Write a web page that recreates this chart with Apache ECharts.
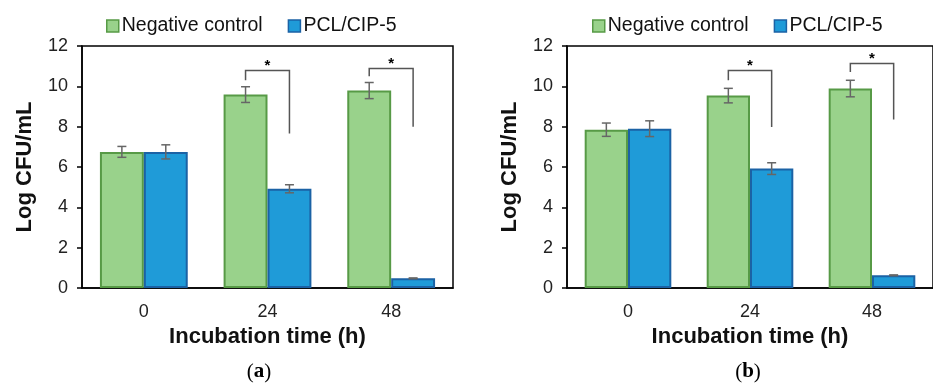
<!DOCTYPE html>
<html>
<head>
<meta charset="utf-8">
<script src="https://cdn.jsdelivr.net/npm/echarts@6/dist/echarts.min.js"></script>
<style>
  html, body { margin: 0; padding: 0; background: #fff; }
  #chart { width: 933px; height: 388px; }
</style>
</head>
<body>
<div id="chart"></div>
<script>
// data
const categories = ['0', '24', '48'];
const seriesNames = ['Negative control', 'PCL/CIP-5'];
const yTicks = [0, 12, 2]; // min, max, interval

// panel (a)
const controlA = [6.75, 9.59, 9.79];
const controlErrA = [0.27, 0.39, 0.40];
const pclA = [6.75, 4.92, 0.48];
const pclErrA = [0.35, 0.20, 0.02];
// significance brackets: [category, left start, top, right end]
const bracketsA = [[1, 10.3, 10.78, 7.66], [2, 10.5, 10.88, 7.99]];

// panel (b)
const controlB = [7.85, 9.54, 9.89];
const controlErrB = [0.33, 0.36, 0.41];
const pclB = [7.90, 5.92, 0.63];
const pclErrB = [0.39, 0.29, 0.02];
const bracketsB = [[1, 10.3, 10.78, 7.98], [2, 10.71, 11.13, 8.36]];

const GREEN = '#99d28b', GREEN_EDGE = '#579a46';
const BLUE = '#1f9bd8', BLUE_EDGE = '#1b62a5';
const BAR_FRAC = 0.355;
const FONT = "'Liberation Sans', Arial, sans-serif";

const myChart = echarts.init(document.getElementById('chart'));

const barSeries = (name, values, color, edge, idx) => ({
    name: name,
    type: 'bar',
    xAxisIndex: idx,
    yAxisIndex: idx,
    barWidth: (BAR_FRAC * 100) + '%',
    barGap: '0%',
    itemStyle: { color: color, borderColor: edge, borderWidth: 2 },
    data: values
});

const errSeries = (values, errs, side, idx) => ({
    type: 'custom',
    xAxisIndex: idx,
    yAxisIndex: idx,
    z: 5,
    silent: true,
    data: values.map((v, i) => [i, v, errs[i]]),
    renderItem: function (params, api) {
        const band = api.size([1, 0])[0];
        const x = api.coord([api.value(0), 0])[0] + side * band * BAR_FRAC / 2;
        const top = api.coord([api.value(0), api.value(1) + api.value(2)])[1];
        const bot = api.coord([api.value(0), api.value(1) - api.value(2)])[1];
        const st = { stroke: '#666', lineWidth: 1.5 };
        return {
            type: 'group',
            children: [
                { type: 'line', shape: { x1: x, y1: top, x2: x, y2: bot }, style: st },
                { type: 'line', shape: { x1: x - 4.5, y1: top, x2: x + 4.5, y2: top }, style: st },
                { type: 'line', shape: { x1: x - 4.5, y1: bot, x2: x + 4.5, y2: bot }, style: st }
            ]
        };
    }
});

const bracketSeries = (brackets, idx) => ({
    type: 'custom',
    xAxisIndex: idx,
    yAxisIndex: idx,
    z: 5,
    silent: true,
    data: brackets,
    renderItem: function (params, api) {
        const band = api.size([1, 0])[0];
        const c = api.coord([api.value(0), 0])[0];
        const xl = c - band * BAR_FRAC / 2;
        const xr = c + band * BAR_FRAC / 2;
        const y0 = api.coord([api.value(0), api.value(1)])[1];
        const yt = api.coord([api.value(0), api.value(2)])[1];
        const y1 = api.coord([api.value(0), api.value(3)])[1];
        return {
            type: 'group',
            children: [
                {
                    type: 'polyline',
                    shape: { points: [[xl, y0], [xl, yt], [xr, yt], [xr, y1]] },
                    style: { stroke: '#555', lineWidth: 1.5, fill: null }
                },
                {
                    type: 'text',
                    x: c, y: yt + 3,
                    style: {
                        text: '*', fill: '#000', font: 'bold 15px ' + FONT,
                        align: 'center', verticalAlign: 'bottom'
                    }
                }
            ]
        };
    }
});

const xAxisFor = (idx) => ({
    type: 'category',
    gridIndex: idx,
    data: categories,
    name: 'Incubation time (h)',
    nameLocation: 'middle',
    nameGap: 37,
    nameTextStyle: { fontFamily: FONT, fontWeight: 'bold', fontSize: 22, color: '#111' },
    axisLine: { lineStyle: { color: '#000', width: 1.5 } },
    axisTick: { alignWithLabel: true, length: 5, lineStyle: { color: '#000', width: 1.5 } },
    axisLabel: { fontFamily: FONT, fontSize: 18, color: '#222', margin: 15 }
});

const yAxisFor = (idx) => ({
    type: 'value',
    gridIndex: idx,
    min: yTicks[0],
    max: yTicks[1],
    interval: yTicks[2],
    name: 'Log CFU/mL',
    nameLocation: 'middle',
    nameGap: 46,
    nameTextStyle: { fontFamily: FONT, fontWeight: 'bold', fontSize: 22, color: '#111' },
    axisLine: { show: true, lineStyle: { color: '#000', width: 1.5 } },
    axisTick: { show: true, length: 5, lineStyle: { color: '#000', width: 1.5 } },
    splitLine: { show: false },
    axisLabel: { fontFamily: FONT, fontSize: 18, color: '#222', margin: 14 }
});

const legendFor = (left) => ({
    left: left,
    top: 11,
    itemWidth: 12,
    itemHeight: 12,
    itemGap: 25,
    icon: 'rect',
    data: seriesNames,
    itemStyle: { borderWidth: 1.5 },
    textStyle: { fontFamily: FONT, fontSize: 19.5, color: '#111', padding: [0, 0, 0, -2] }
});

const option = {
    animation: false,
    backgroundColor: '#fff',
    legend: [legendFor(101), legendFor(587)],
    grid: [
        { left: 82, top: 46, width: 371, height: 242, show: true, borderColor: '#000', borderWidth: 1.5 },
        { left: 567, top: 46, width: 369, height: 242, show: true, borderColor: '#000', borderWidth: 1.5 }
    ],
    xAxis: [xAxisFor(0), xAxisFor(1)],
    yAxis: [yAxisFor(0), yAxisFor(1)],
    graphic: [
        {
            type: 'text', x: 259, y: 372,
            style: {
                text: '{p|(}{b|a}{p|)}', align: 'center', verticalAlign: 'middle',
                rich: {
                    p: { fontFamily: "'Liberation Serif', serif", fontSize: 21, fill: '#000' },
                    b: { fontFamily: "'Liberation Serif', serif", fontSize: 21, fontWeight: 'bold', fill: '#000' }
                }
            }
        },
        {
            type: 'text', x: 748, y: 372,
            style: {
                text: '{p|(}{b|b}{p|)}', align: 'center', verticalAlign: 'middle',
                rich: {
                    p: { fontFamily: "'Liberation Serif', serif", fontSize: 21, fill: '#000' },
                    b: { fontFamily: "'Liberation Serif', serif", fontSize: 21, fontWeight: 'bold', fill: '#000' }
                }
            }
        }
    ],
    series: [
        barSeries(seriesNames[0], controlA, GREEN, GREEN_EDGE, 0),
        barSeries(seriesNames[1], pclA, BLUE, BLUE_EDGE, 0),
        errSeries(controlA, controlErrA, -1, 0),
        errSeries(pclA, pclErrA, 1, 0),
        bracketSeries(bracketsA, 0),
        barSeries(seriesNames[0], controlB, GREEN, GREEN_EDGE, 1),
        barSeries(seriesNames[1], pclB, BLUE, BLUE_EDGE, 1),
        errSeries(controlB, controlErrB, -1, 1),
        errSeries(pclB, pclErrB, 1, 1),
        bracketSeries(bracketsB, 1)
    ]
};

myChart.setOption(option);
</script>
</body>
</html>
